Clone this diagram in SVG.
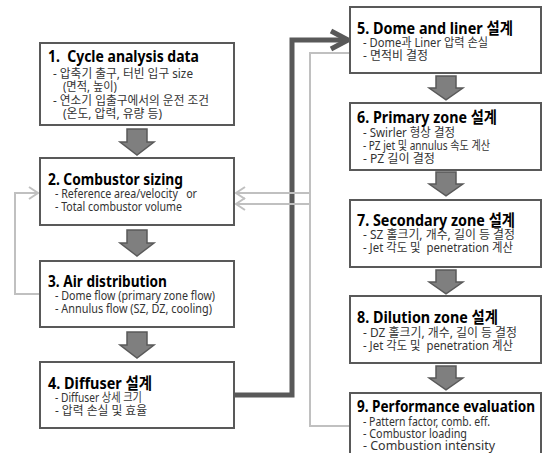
<svg xmlns="http://www.w3.org/2000/svg" width="543" height="453" viewBox="0 0 543 453">
<style>
.box{fill:#fff;stroke:#595959;stroke-width:2}
.t{font-family:"Noto Sans","Noto Sans CJK KR",sans-serif;font-weight:bold;font-size:16px;fill:#000;white-space:pre}
.b{font-family:"Noto Sans","Noto Sans CJK KR",sans-serif;font-size:12px;fill:#333;white-space:pre}
.blk{fill:#7f7f7f;stroke:#5a5a5a;stroke-width:1.5}
.thick{fill:none;stroke:#595959;stroke-width:5}
.thin{fill:none;stroke:#c0c0c0;stroke-width:2}
</style>
<defs>
<path id="blockArrow" d="M-10,0 H10 V13 H17 L0,26 L-17,13 H-10 Z"/>
<marker id="thickHead" markerUnits="userSpaceOnUse" markerWidth="24" markerHeight="24" refX="20" refY="12" orient="auto">
<path d="M3,3 L20,12 L3,21" fill="none" stroke="#595959" stroke-width="5"/>
</marker>
<marker id="thinHead" markerUnits="userSpaceOnUse" markerWidth="14" markerHeight="16" refX="11" refY="8" orient="auto">
<path d="M2,2 L11,8 L2,14" fill="none" stroke="#c0c0c0" stroke-width="2"/>
</marker>
</defs>

<g id="connectors">
<polyline class="thick" points="234,395 292,395 292,40 348,40" marker-end="url(#thickHead)"/>
<polyline class="thin" points="350,426 310,426 310,53 350,53"/>
<polyline class="thin" points="310,193 236,193" marker-end="url(#thinHead)"/>
<polyline class="thin" points="310,204 236,204" marker-end="url(#thinHead)"/>
<polyline class="thin" points="40,294 15,294 15,193 38,193" marker-end="url(#thinHead)"/>
<use href="#blockArrow" class="blk" transform="translate(137,129)"/>
<use href="#blockArrow" class="blk" transform="translate(137,230)"/>
<use href="#blockArrow" class="blk" transform="translate(137,332)"/>
<use href="#blockArrow" class="blk" transform="translate(446,76) scale(1,0.92)"/>
<use href="#blockArrow" class="blk" transform="translate(446,172) scale(1,0.92)"/>
<use href="#blockArrow" class="blk" transform="translate(446,270) scale(1,0.92)"/>
<use href="#blockArrow" class="blk" transform="translate(446,366) scale(1,0.92)"/>
</g>

<g id="node1">
<rect class="box" x="40" y="43" width="194" height="82"/>
<text class="t" x="48" y="62" textLength="151" lengthAdjust="spacingAndGlyphs">1.  Cycle analysis data</text>
<text class="b" x="53" y="78" textLength="140" lengthAdjust="spacingAndGlyphs">- 압축기 출구, 터빈 입구 size</text>
<text class="b" x="63" y="91" textLength="54" lengthAdjust="spacingAndGlyphs">(면적, 높이)</text>
<text class="b" x="53" y="105" textLength="156" lengthAdjust="spacingAndGlyphs">- 연소기 입출구에서의 운전 조건</text>
<text class="b" x="63" y="118" textLength="99" lengthAdjust="spacingAndGlyphs">(온도, 압력, 유량 등)</text>
</g>

<g id="node2">
<rect class="box" x="40" y="158" width="194" height="67"/>
<text class="t" x="48" y="185" textLength="135" lengthAdjust="spacingAndGlyphs">2. Combustor sizing</text>
<text class="b" x="55" y="198" textLength="142" lengthAdjust="spacingAndGlyphs">- Reference area/velocity   or</text>
<text class="b" x="55" y="211" textLength="127" lengthAdjust="spacingAndGlyphs">- Total combustor volume</text>
</g>

<g id="node3">
<rect class="box" x="40" y="261" width="194" height="66"/>
<text class="t" x="48" y="287" textLength="119" lengthAdjust="spacingAndGlyphs">3. Air distribution</text>
<text class="b" x="55" y="300" textLength="160" lengthAdjust="spacingAndGlyphs">- Dome flow (primary zone flow)</text>
<text class="b" x="55" y="313" textLength="157" lengthAdjust="spacingAndGlyphs">- Annulus flow (SZ, DZ, cooling)</text>
</g>

<g id="node4">
<rect class="box" x="40" y="362" width="194" height="66"/>
<text class="t" x="48" y="389" textLength="104" lengthAdjust="spacingAndGlyphs">4. Diffuser 설계</text>
<text class="b" x="55" y="402" textLength="87" lengthAdjust="spacingAndGlyphs">- Diffuser 상세 크기</text>
<text class="b" x="55" y="415" textLength="92" lengthAdjust="spacingAndGlyphs">- 압력 손실 및 효율</text>
</g>

<g id="node5">
<rect class="box" x="350" y="7" width="191" height="66"/>
<text class="t" x="357" y="34" textLength="156" lengthAdjust="spacingAndGlyphs">5. Dome and liner 설계</text>
<text class="b" x="363" y="47" textLength="125" lengthAdjust="spacingAndGlyphs">- Dome과 Liner 압력 손실</text>
<text class="b" x="363" y="60" textLength="65" lengthAdjust="spacingAndGlyphs">- 면적비 결정</text>
</g>

<g id="node6">
<rect class="box" x="350" y="103" width="191" height="67"/>
<text class="t" x="357" y="123" textLength="140" lengthAdjust="spacingAndGlyphs">6. Primary zone 설계</text>
<text class="b" x="363" y="137" textLength="92" lengthAdjust="spacingAndGlyphs">- Swirler 형상 결정</text>
<text class="b" x="363" y="150" textLength="127" lengthAdjust="spacingAndGlyphs">- PZ jet 및 annulus 속도 계산</text>
<text class="b" x="363" y="163" textLength="72" lengthAdjust="spacingAndGlyphs">- PZ 길이 결정</text>
</g>

<g id="node7">
<rect class="box" x="350" y="200" width="191" height="67"/>
<text class="t" x="357" y="226" textLength="158" lengthAdjust="spacingAndGlyphs">7. Secondary zone 설계</text>
<text class="b" x="363" y="239" textLength="152" lengthAdjust="spacingAndGlyphs">- SZ 홀크기, 개수, 길이 등 결정</text>
<text class="b" x="363" y="252" textLength="150" lengthAdjust="spacingAndGlyphs">- Jet 각도 및  penetration 계산</text>
</g>

<g id="node8">
<rect class="box" x="350" y="296" width="191" height="67"/>
<text class="t" x="357" y="323" textLength="141" lengthAdjust="spacingAndGlyphs">8. Dilution zone 설계</text>
<text class="b" x="363" y="337" textLength="154" lengthAdjust="spacingAndGlyphs">- DZ 홀크기, 개수, 길이 등 결정</text>
<text class="b" x="363" y="350" textLength="150" lengthAdjust="spacingAndGlyphs">- Jet 각도 및  penetration 계산</text>
</g>

<g id="node9">
<rect class="box" x="350" y="393" width="191" height="75"/>
<text class="t" x="357" y="412" textLength="178" lengthAdjust="spacingAndGlyphs">9. Performance evaluation</text>
<text class="b" x="363" y="426" textLength="127" lengthAdjust="spacingAndGlyphs">- Pattern factor, comb. eff.</text>
<text class="b" x="363" y="438" textLength="104" lengthAdjust="spacingAndGlyphs">- Combustor loading</text>
<text class="b" x="363" y="450" textLength="132" lengthAdjust="spacingAndGlyphs">- Combustion intensity</text>
</g>
</svg>
